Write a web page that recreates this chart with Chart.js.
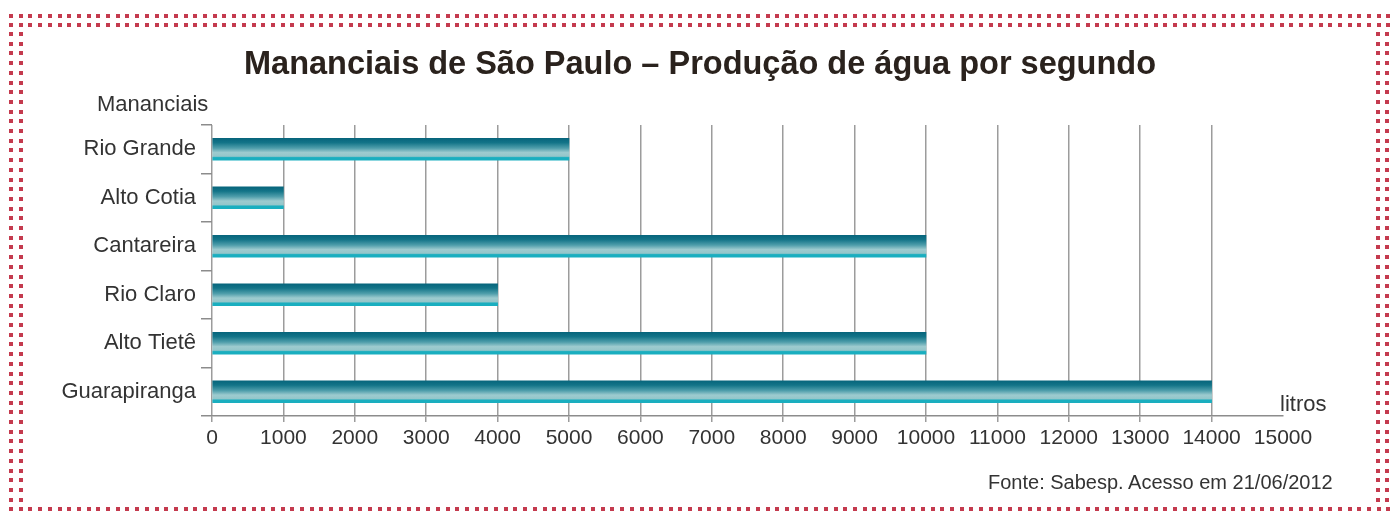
<!DOCTYPE html>
<html>
<head>
<meta charset="utf-8">
<script src="https://cdn.jsdelivr.net/npm/chart.js@4"></script>
<style>
  body { margin: 0; background: #fff; }
  #wrap { position: relative; width: 1394px; height: 515px; overflow: hidden; font-family: "Liberation Sans", Arial, sans-serif; color: #333; }
  #chart { position: absolute; left: 0; top: 0; }
  .dots-h { position: absolute; height: 4px; background: repeating-linear-gradient(to right, #c43a4e 0 4px, transparent 4px 9.7px); }
  .dots-v { position: absolute; width: 4px; background: repeating-linear-gradient(to bottom, #c43a4e 0 4px, transparent 4px 9.7px); }
  .txt { position: absolute; white-space: nowrap; line-height: 1; }
  #title { left: 0; width: 1400px; top: 47px; text-align: center; font-weight: bold; font-size: 32.5px; color: #2a221d; }
  #ylab { left: 97px; top: 93px; font-size: 22px; }
  #xlab { left: 1280px; top: 393px; font-size: 22px; }
  #fonte { left: 988px; top: 472px; font-size: 20px; }
</style>
</head>
<body>
<div id="wrap">
  <canvas id="chart" width="1394" height="515"></canvas>
  <div class="dots-h" style="left:9px; top:14px; width:1381px"></div>
  <div class="dots-h" style="left:9px; top:23px; width:1381px"></div>
  <div class="dots-h" style="left:9px; top:507px; width:1381px"></div>
  <div class="dots-v" style="left:9px; top:32px; height:470px"></div>
  <div class="dots-v" style="left:19px; top:32px; height:470px"></div>
  <div class="dots-v" style="left:1376px; top:32px; height:470px"></div>
  <div class="dots-v" style="left:1385px; top:32px; height:470px"></div>
  <div class="txt" id="title">Mananciais de São Paulo – Produção de água por segundo</div>
  <div class="txt" id="ylab">Mananciais</div>
  <div class="txt" id="xlab">litros</div>
  <div class="txt" id="fonte">Fonte: Sabesp. Acesso em 21/06/2012</div>
</div>
<script>
const mananciais = ['Rio Grande', 'Alto Cotia', 'Cantareira', 'Rio Claro', 'Alto Tietê', 'Guarapiranga'];
const litros = [5000, 1000, 10000, 4000, 10000, 14000];
const xMax = 15000;
const xStep = 1000;
const barSize = 22;

// each bar gets its own vertical gradient, placed from the category scale
function barFill(c) {
  const yScale = c.chart.scales.y;
  const cy = yScale ? yScale.getPixelForValue(c.dataIndex) : NaN;
  if (!isFinite(cy)) return '#4f9eab';
  const g = c.chart.ctx.createLinearGradient(0, cy - barSize / 2, 0, cy + barSize / 2);
  g.addColorStop(0, '#07657c');
  g.addColorStop(0.2, '#137488');
  g.addColorStop(0.45, '#4f9eab');
  g.addColorStop(0.65, '#9dcbcf');
  g.addColorStop(0.82, '#94c6ca');
  g.addColorStop(0.88, '#1aaebf');
  g.addColorStop(1, '#1aaebf');
  return g;
}

new Chart(document.getElementById('chart'), {
  type: 'bar',
  data: {
    labels: mananciais,
    datasets: [{
      data: litros,
      backgroundColor: barFill,
      borderWidth: 0,
      barThickness: barSize
    }]
  },
  options: {
    indexAxis: 'y',
    responsive: false,
    animation: false,
    layout: { padding: { top: 125, right: 111, left: 0, bottom: 0 } },
    plugins: { legend: { display: false }, tooltip: { enabled: false } },
    scales: {
      x: {
        min: 0,
        max: xMax,
        z: 1,
        ticks: {
          stepSize: xStep,
          color: '#333',
          padding: 4,
          maxRotation: 0,
          autoSkip: false,
          callback: (v) => String(v),
          font: { family: '"Liberation Sans", Arial, sans-serif', size: 21 }
        },
        grid: {
          color: (c) => (c.tick && c.tick.value === xMax ? 'rgba(0,0,0,0)' : '#9c9c9c'),
          lineWidth: 1.5,
          tickLength: 6
        },
        border: { display: true, color: '#8c8c8c', width: 1.5 },
        afterFit: (s) => { s.height = 99; }
      },
      y: {
        ticks: {
          color: '#333',
          padding: 5,
          font: { family: '"Liberation Sans", Arial, sans-serif', size: 22 }
        },
        grid: {
          offset: true,
          drawOnChartArea: false,
          color: '#8c8c8c',
          lineWidth: 1.5,
          tickLength: 11
        },
        border: { display: false },
        afterFit: (s) => { s.width = 212; }
      }
    }
  }
});
</script>
</body>
</html>
